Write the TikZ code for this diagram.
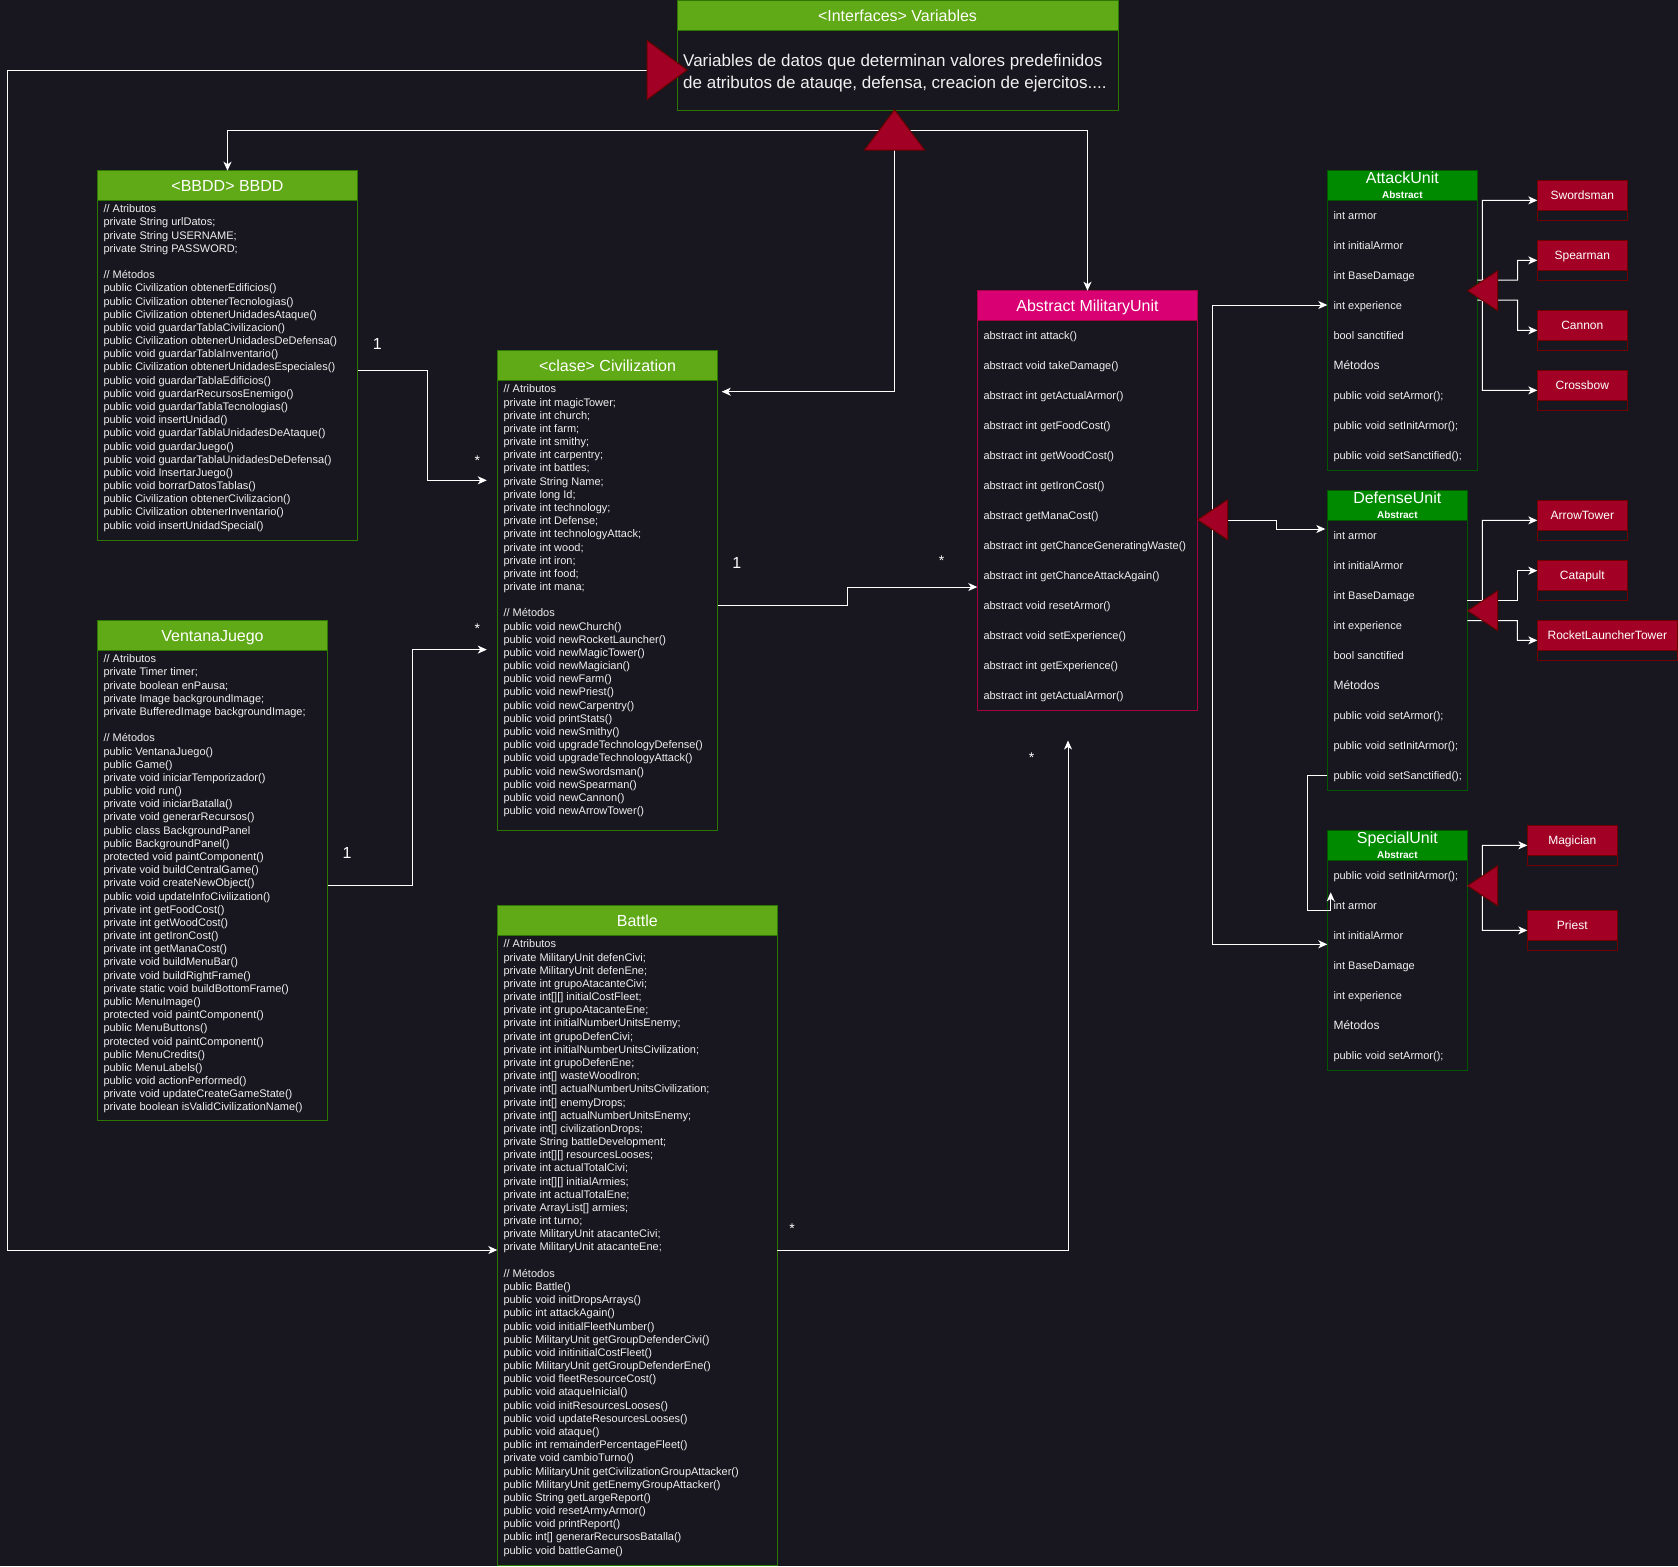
\documentclass[tikz,border=0pt]{standalone}
\usepackage{fontspec}
\setmainfont{Liberation Sans}
\usetikzlibrary{arrows.meta}
\definecolor{bgc}{RGB}{24,23,31}
\definecolor{txtc}{RGB}{240,240,240}
\definecolor{grnF}{RGB}{96,169,23}
\definecolor{grnS}{RGB}{45,118,0}
\definecolor{dgF}{RGB}{0,138,0}
\definecolor{dgS}{RGB}{0,87,0}
\definecolor{pinkF}{RGB}{216,0,115}
\definecolor{pinkS}{RGB}{165,0,64}
\definecolor{redF}{RGB}{162,0,37}
\definecolor{redS}{RGB}{111,0,0}
\begin{document}
\begin{tikzpicture}[x=1pt,y=-1pt,
 clsbox/.style={draw, anchor=north west, inner sep=0pt, outer sep=0pt, line width=1pt},
 clshdr/.style={clsbox, text=white, font=\fontsize{16}{19}\selectfont, text height=11.5pt, text depth=0pt, minimum height=29.3pt},
 clsbody/.style={anchor=base west, inner sep=0pt, align=left, text=txtc, font=\fontsize{11}{13.18}\selectfont},
 unitbody/.style={clsbody, font=\fontsize{11}{30}\selectfont},
 unitttl/.style={anchor=base, inner sep=0pt, text=white, font=\fontsize{16}{19}\selectfont},
 abstr/.style={anchor=base, inner sep=0pt, text=white, font=\fontsize{10}{12}\selectfont\bfseries},
 subouter/.style={clsbox, draw=redS, minimum width=90pt, minimum height=39.3pt},
 subhdr/.style={clsbox, draw=redS, fill=redF, text=white, font=\fontsize{12}{14}\selectfont, text height=8.6pt, text depth=0pt, minimum width=90pt, minimum height=29.3pt},
 wire/.style={draw=white, line width=1pt},
 tipa/.style={-{Stealth[length=9pt,width=8pt,inset=2.5pt]}},
 tipb/.style={{Stealth[length=9pt,width=8pt,inset=2.5pt]}-},
 bigtri/.style={fill=redF, draw=redS, line width=1pt},
 lblone/.style={text=white, font=\fontsize{16}{19}\selectfont, inner sep=0pt},
 lblstar/.style={text=white, font=\fontsize{14}{16}\selectfont, inner sep=0pt}
]
\fill[bgc] (0,0) rectangle (1678,1566);
\useasboundingbox (0,0) rectangle (1678,1566);

% ---------- Variables ----------
\node[clsbox, draw=grnS, minimum width=441pt, minimum height=110pt] (vars) at (677,0) {};
\node[clshdr, draw=grnS, fill=grnF, minimum width=441pt, minimum height=30.7pt] (varsH) at (677,0) {<Interfaces> Variables};
\node[clsbody, font=\fontsize{17}{21.3}\selectfont] (varsT) at (683,88) {Variables de datos que determinan valores predefinidos\\de atributos de atauqe, defensa, creacion de ejercitos....};

% ---------- BBDD ----------
\node[clsbox, draw=grnS, minimum width=260.4pt, minimum height=369.3pt] (bbdd) at (97.3,170.7) {};
\node[clshdr, draw=grnS, fill=grnF, minimum width=260.4pt] (bbddH) at (97.3,170.7) {<BBDD> BBDD};
\node[clsbody] (bbddT) at (103.3,529.1) {// Atributos\\
private String urlDatos;\\
private String USERNAME;\\
private String PASSWORD;\\[13.18pt]
// Métodos\\
public Civilization obtenerEdificios()\\
public Civilization obtenerTecnologias()\\
public Civilization obtenerUnidadesAtaque()\\
public void guardarTablaCivilizacion()\\
public Civilization obtenerUnidadesDeDefensa()\\
public void guardarTablaInventario()\\
public Civilization obtenerUnidadesEspeciales()\\
public void guardarTablaEdificios()\\
public void guardarRecursosEnemigo()\\
public void guardarTablaTecnologias()\\
public void insertUnidad()\\
public void guardarTablaUnidadesDeAtaque()\\
public void guardarJuego()\\
public void guardarTablaUnidadesDeDefensa()\\
public void InsertarJuego()\\
public void borrarDatosTablas()\\
public Civilization obtenerCivilizacion()\\
public Civilization obtenerInventario()\\
public void insertUnidadSpecial()};

% ---------- Civilization ----------
\node[clsbox, draw=grnS, minimum width=220.4pt, minimum height=479.3pt] (civ) at (497.3,350.7) {};
\node[clshdr, draw=grnS, fill=grnF, minimum width=220.4pt] (civH) at (497.3,350.7) {<clase> Civilization};
\node[clsbody] (civT) at (503.3,814.6) {// Atributos\\
private int magicTower;\\
private int church;\\
private int farm;\\
private int smithy;\\
private int carpentry;\\
private int battles;\\
private String Name;\\
private long Id;\\
private int technology;\\
private int Defense;\\
private int technologyAttack;\\
private int wood;\\
private int iron;\\
private int food;\\
private int mana;\\[13.18pt]
// Métodos\\
public void newChurch()\\
public void newRocketLauncher()\\
public void newMagicTower()\\
public void newMagician()\\
public void newFarm()\\
public void newPriest()\\
public void newCarpentry()\\
public void printStats()\\
public void newSmithy()\\
public void upgradeTechnologyDefense()\\
public void upgradeTechnologyAttack()\\
public void newSwordsman()\\
public void newSpearman()\\
public void newCannon()\\
public void newArrowTower()};

% ---------- VentanaJuego ----------
\node[clsbox, draw=grnS, minimum width=230.4pt, minimum height=499.3pt] (vj) at (97.3,620.7) {};
\node[clshdr, draw=grnS, fill=grnF, minimum width=230.4pt] (vjH) at (97.3,620.7) {VentanaJuego};
\node[clsbody] (vjT) at (103.3,1110.9) {// Atributos\\
private Timer timer;\\
private boolean enPausa;\\
private Image backgroundImage;\\
private BufferedImage backgroundImage;\\[13.18pt]
// Métodos\\
public VentanaJuego()\\
public Game()\\
private void iniciarTemporizador()\\
public void run()\\
private void iniciarBatalla()\\
private void generarRecursos()\\
public class BackgroundPanel\\
public BackgroundPanel()\\
protected void paintComponent()\\
private void buildCentralGame()\\
private void createNewObject()\\
public void updateInfoCivilization()\\
private int getFoodCost()\\
private int getWoodCost()\\
private int getIronCost()\\
private int getManaCost()\\
private void buildMenuBar()\\
private void buildRightFrame()\\
private static void buildBottomFrame()\\
public MenuImage()\\
protected void paintComponent()\\
public MenuButtons()\\
protected void paintComponent()\\
public MenuCredits()\\
public MenuLabels()\\
public void actionPerformed()\\
private void updateCreateGameState()\\
private boolean isValidCivilizationName()};

% ---------- Battle ----------
\node[clsbox, draw=grnS, minimum width=280pt, minimum height=659.3pt] (battle) at (497.3,905.7) {};
\node[clshdr, draw=grnS, fill=grnF, minimum width=280pt] (battleH) at (497.3,905.7) {Battle};
\node[clsbody] (battleT) at (503.3,1554.1) {// Atributos\\
private MilitaryUnit defenCivi;\\
private MilitaryUnit defenEne;\\
private int grupoAtacanteCivi;\\
private int[][] initialCostFleet;\\
private int grupoAtacanteEne;\\
private int initialNumberUnitsEnemy;\\
private int grupoDefenCivi;\\
private int initialNumberUnitsCivilization;\\
private int grupoDefenEne;\\
private int[] wasteWoodIron;\\
private int[] actualNumberUnitsCivilization;\\
private int[] enemyDrops;\\
private int[] actualNumberUnitsEnemy;\\
private int[] civilizationDrops;\\
private String battleDevelopment;\\
private int[][] resourcesLooses;\\
private int actualTotalCivi;\\
private int[][] initialArmies;\\
private int actualTotalEne;\\
private ArrayList[] armies;\\
private int turno;\\
private MilitaryUnit atacanteCivi;\\
private MilitaryUnit atacanteEne;\\[13.18pt]
// Métodos\\
public Battle()\\
public void initDropsArrays()\\
public int attackAgain()\\
public void initialFleetNumber()\\
public MilitaryUnit getGroupDefenderCivi()\\
public void initinitialCostFleet()\\
public MilitaryUnit getGroupDefenderEne()\\
public void fleetResourceCost()\\
public void ataqueInicial()\\
public void initResourcesLooses()\\
public void updateResourcesLooses()\\
public void ataque()\\
public int remainderPercentageFleet()\\
private void cambioTurno()\\
public MilitaryUnit getCivilizationGroupAttacker()\\
public MilitaryUnit getEnemyGroupAttacker()\\
public String getLargeReport()\\
public void resetArmyArmor()\\
public void printReport()\\
public int[] generarRecursosBatalla()\\
public void battleGame()};

% ---------- MilitaryUnit ----------
\node[clsbox, draw=pinkS, minimum width=220.4pt, minimum height=419.3pt] (mu) at (977.3,290.7) {};
\node[clshdr, draw=pinkS, fill=pinkF, minimum width=220.4pt] (muH) at (977.3,290.7) {Abstract MilitaryUnit};
\node[unitbody] (muT) at (983.3,699.5) {abstract int attack()\\
abstract void takeDamage()\\
abstract int getActualArmor()\\
abstract int getFoodCost()\\
abstract int getWoodCost()\\
abstract int getIronCost()\\
abstract getManaCost()\\
abstract int getChanceGeneratingWaste()\\
abstract int getChanceAttackAgain()\\
abstract void resetArmor()\\
abstract void setExperience()\\
abstract int getExperience()\\
abstract int getActualArmor()};

% ---------- AttackUnit ----------
\node[clsbox, draw=dgS, minimum width=150pt, minimum height=299.3pt] (au) at (1327.3,170.7) {};
\node[clsbox, draw=dgS, fill=dgF, minimum width=150pt, minimum height=29.3pt] (auH) at (1327.3,170.7) {};
\node[unitttl] (auN) at (1402.3,183.5) {AttackUnit};
\node[abstr] (auA) at (1402.3,198.8) {Abstract};
\node[unitbody] (auT) at (1333.3,459.5) {int armor\\
int initialArmor\\
int BaseDamage\\
int experience\\
bool sanctified\\
{\fontsize{12}{30}\selectfont Métodos}\\
public void setArmor();\\
public void setInitArmor();\\
public void setSanctified();};

% ---------- DefenseUnit ----------
\node[clsbox, draw=dgS, minimum width=140pt, minimum height=299.3pt] (du) at (1327.3,490.7) {};
\node[clsbox, draw=dgS, fill=dgF, minimum width=140pt, minimum height=29.3pt] (duH) at (1327.3,490.7) {};
\node[unitttl] (duN) at (1397.3,503.5) {DefenseUnit};
\node[abstr] (duA) at (1397.3,518.8) {Abstract};
\node[unitbody] (duT) at (1333.3,779.5) {int armor\\
int initialArmor\\
int BaseDamage\\
int experience\\
bool sanctified\\
{\fontsize{12}{30}\selectfont Métodos}\\
public void setArmor();\\
public void setInitArmor();\\
public void setSanctified();};

% ---------- SpecialUnit ----------
\node[clsbox, draw=dgS, minimum width=140pt, minimum height=239.3pt] (su) at (1327.3,830.7) {};
\node[clsbox, draw=dgS, fill=dgF, minimum width=140pt, minimum height=29.3pt] (suH) at (1327.3,830.7) {};
\node[unitttl] (suN) at (1397.3,843.5) {SpecialUnit};
\node[abstr] (suA) at (1397.3,858.8) {Abstract};
\node[unitbody] (suT) at (1333.3,1059.5) {public void setInitArmor();\\
int armor\\
int initialArmor\\
int BaseDamage\\
int experience\\
{\fontsize{12}{30}\selectfont Métodos}\\
public void setArmor();};

% ---------- subclasses ----------
\node[subouter] (sw) at (1537.3,180.7) {};
\node[subhdr] (swH) at (1537.3,180.7) {Swordsman};
\node[subouter] (sp) at (1537.3,240.7) {};
\node[subhdr] (spH) at (1537.3,240.7) {Spearman};
\node[subouter] (ca) at (1537.3,310.7) {};
\node[subhdr] (caH) at (1537.3,310.7) {Cannon};
\node[subouter] (cr) at (1537.3,370.7) {};
\node[subhdr] (crH) at (1537.3,370.7) {Crossbow};
\node[subouter] (at) at (1537.3,500.7) {};
\node[subhdr] (atH) at (1537.3,500.7) {ArrowTower};
\node[subouter] (cp) at (1537.3,560.7) {};
\node[subhdr] (cpH) at (1537.3,560.7) {Catapult};
\node[subouter, minimum width=140pt] (rl) at (1537.3,620.7) {};
\node[subhdr, minimum width=140pt] (rlH) at (1537.3,620.7) {RocketLauncherTower};
\node[subouter] (mg) at (1527.3,825.7) {};
\node[subhdr] (mgH) at (1527.3,825.7) {Magician};
\node[subouter] (pr) at (1527.3,910.7) {};
\node[subhdr] (prH) at (1527.3,910.7) {Priest};

% ---------- connectors ----------
\coordinate (btip) at (1068,740.5);
\coordinate (dstip) at (1330.7,892.3);
\draw[wire, tipb] (battle.west |- 0,1250) -- (7.5,1250) -- (7.5,70) -- (665,70);
\draw[wire, tipb] (bbdd.north) -- (227.5,130.7) -- (894.5,130.7);
\draw[wire, tipb] (mu.north) -- (1087.5,130.7) -- (894.5,130.7);
\draw[wire, tipb, shorten <=4pt] (civ.east |- 0,391.7) -- (894.5,391.7) -- (894.5,140);
\draw[wire, tipa, shorten >=10.5pt] (bbdd.east |- 0,370.3) -- (427.3,370.3) -- (427.3,480.3) -- (civ.west |- 0,480.3);
\draw[wire, tipa, shorten >=10.5pt] (vj.east |- 0,885.7) -- (412,885.7) -- (412,649.6) -- (civ.west |- 0,649.6);
\draw[wire, tipa] (civ.east |- 0,605.3) -- (847.7,605.3) -- (847.7,587) -- (mu.west |- 0,587);
\draw[wire, tipa] (battle.east |- 0,1250) -- (1068,1250) -- (btip);
\draw[wire, tipb] (au.west |- 0,305) -- (1212.5,305) -- (1212.5,519.7) -- (mu.east |- 0,519.7);
\draw[wire, tipb, shorten <=2pt] (du.west |- 0,529) -- (1276.7,529) -- (1276.7,520.5) -- (mu.east |- 0,520.5);
\draw[wire, tipb] (su.west |- 0,944.3) -- (1212.5,944.3) -- (1212.5,519.7);
\draw[wire, tipa] (du.west |- 0,775.7) -- (1307.3,775.7) -- (1307.3,910) -- (1330.7,910) -- (dstip);
\draw[wire, tipb] (sw.west) -- (1482.3,200.35) -- (1482.3,290.7) -- (au.east |- 0,290.7);
\draw[wire, tipb] (sp.west) -- (1517.7,260.35) -- (1517.7,280) -- (au.east |- 0,280);
\draw[wire, tipb] (ca.west) -- (1517.7,330.35) -- (1517.7,300) -- (au.east |- 0,300);
\draw[wire, tipb] (cr.west) -- (1482.3,390.35) -- (1482.3,290.7) -- (au.east |- 0,290.7);
\draw[wire, tipb] (at.west) -- (1482.3,520.35) -- (1482.3,610.7) -- (du.east |- 0,610.7);
\draw[wire, tipb] (cp.west |- 0,570.7) -- (1517.3,570.7) -- (1517.3,600.7) -- (du.east |- 0,600.7);
\draw[wire, tipb] (rl.west) -- (1517.3,640.35) -- (1517.3,620.7) -- (du.east |- 0,620.7);
\draw[wire, tipb] (mg.west) -- (1482.3,845.35) -- (1482.3,885.7) -- (su.east |- 0,885.7);
\draw[wire, tipb] (pr.west) -- (1482.3,930.35) -- (1482.3,885.7) -- (su.east |- 0,885.7);

% ---------- generalization triangles ----------
\filldraw[bigtri] (687,70) -- (647,40.5) -- (647,99.5) -- cycle;
\filldraw[bigtri] (894.5,110) -- (864.5,150) -- (924.5,150) -- cycle;
\filldraw[bigtri] (1197.7,519.7) -- (1227.7,499.7) -- (1227.7,539.7) -- cycle;
\filldraw[bigtri] (1467.7,290.7) -- (1497.7,270.7) -- (1497.7,310.7) -- cycle;
\filldraw[bigtri] (1467.7,610.7) -- (1497.7,590.7) -- (1497.7,630.7) -- cycle;
\filldraw[bigtri] (1467.7,885.7) -- (1497.7,865.7) -- (1497.7,905.7) -- cycle;

% ---------- multiplicities ----------
\node[lblone] (m1) at (377.3,344) {1};
\node[lblstar] (s1) at (477.3,461) {*};
\node[lblone] (m2) at (347,853) {1};
\node[lblstar] (s2) at (477.3,629) {*};
\node[lblone] (m3) at (736.7,563.3) {1};
\node[lblstar] (s3) at (941.7,561) {*};
\node[lblstar] (s4) at (792,1228.4) {*};
\node[lblstar] (s5) at (1031.6,757.6) {*};
\end{tikzpicture}
\end{document}
